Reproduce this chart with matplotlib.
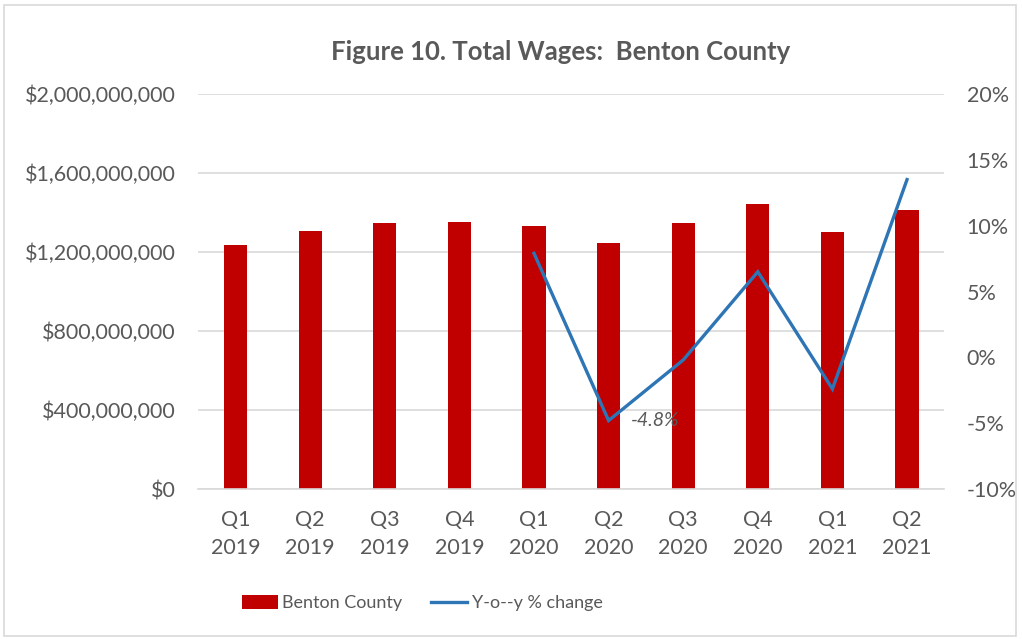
import matplotlib
matplotlib.use('Agg')
import matplotlib.pyplot as plt
from matplotlib.patches import Rectangle
from matplotlib.ticker import FuncFormatter

plt.rcParams['font.family'] = ['Lato', 'DejaVu Sans']

quarters = ['Q1\n2019', 'Q2\n2019', 'Q3\n2019', 'Q4\n2019', 'Q1\n2020',
            'Q2\n2020', 'Q3\n2020', 'Q4\n2020', 'Q1\n2021', 'Q2\n2021']
total_wages = [1.237e9, 1.306e9, 1.347e9, 1.350e9, 1.333e9,
               1.244e9, 1.345e9, 1.441e9, 1.301e9, 1.413e9]
# year-over-year change only exists from Q1 2020 onward
yoy_quarters = quarters[4:]
yoy_change = [7.9, -4.8, -0.2, 6.5, -2.4, 13.5]

BAR_RED = '#c00000'
LINE_BLUE = '#2e75b6'
TEXT_GREY = '#595959'
GRID_GREY = '#d9d9d9'

fig = plt.figure(figsize=(10.22, 6.39), dpi=100)
ax = fig.add_axes([0.194, 0.2347, 0.730, 0.6182])
ax2 = ax.twinx()

x = list(range(len(quarters)))
ax.bar(x, total_wages, width=0.31, color=BAR_RED, label='Benton County', zorder=2)
yoy_x = x[4:]
ax2.plot(yoy_x, yoy_change, color=LINE_BLUE, lw=2.4, label='Y-o--y % change',
         solid_joinstyle='miter', zorder=3)
ax2.text(yoy_x[1] + 0.3, yoy_change[1], f'{yoy_change[1]:.1f}%', fontsize=14,
         style='italic', color=TEXT_GREY, va='center', ha='left')

ax.set_xlim(-0.5, len(quarters) - 0.5)
ax.set_ylim(0, 2e9)
ax.set_yticks([i * 4e8 for i in range(6)])
ax.yaxis.set_major_formatter(FuncFormatter(lambda v, _: f'${v:,.0f}'))
ax2.set_ylim(-10, 20)
ax2.set_yticks(range(-10, 21, 5))
ax2.yaxis.set_major_formatter(FuncFormatter(lambda v, _: f'{v:.0f}%'))

ax.set_xticks(x)
ax.set_xticklabels(quarters, linespacing=1.5)
ax.grid(axis='y', color=GRID_GREY, lw=1.2, zorder=0)
ax.set_axisbelow(True)

for a in (ax, ax2):
    for side in ('top', 'left', 'right', 'bottom'):
        a.spines[side].set_visible(False)
    a.tick_params(length=0, labelsize=15.5, colors=TEXT_GREY)
ax.spines['bottom'].set_visible(True)
ax.spines['bottom'].set_color(GRID_GREY)
ax.spines['bottom'].set_linewidth(1.2)
ax.tick_params(axis='x', pad=15)
ax.tick_params(axis='y', pad=16)
ax2.tick_params(axis='y', pad=16)

fig.text(0.549, 0.918, 'Figure 10. Total Wages:  Benton County', ha='center',
         va='center', fontsize=18.5, fontweight='bold', color=TEXT_GREY)

handles = ax.get_legend_handles_labels()[0] + ax2.get_legend_handles_labels()[0]
labels = ['Benton County', 'Y-o--y % change']
fig.legend(handles, labels, loc='center', bbox_to_anchor=(0.413, 0.056), ncol=2,
           frameon=False, fontsize=13, labelcolor=TEXT_GREY, handlelength=2.0,
           handleheight=0.8, handletextpad=0.25, columnspacing=1.6)

fig.patches.append(Rectangle((0.004, 0.004), 0.99, 0.988, transform=fig.transFigure,
                             fill=False, edgecolor='#d9d9d9', lw=1.2))

fig.savefig('out.png', dpi=100)
